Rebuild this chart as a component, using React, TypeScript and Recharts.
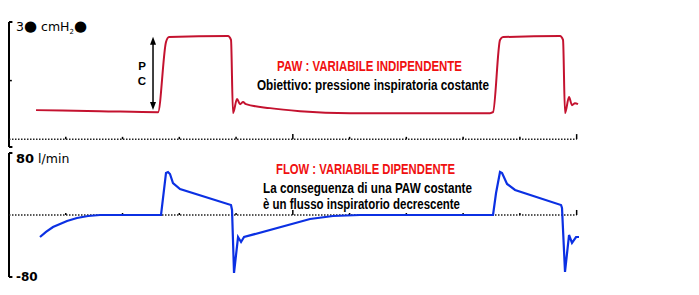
import React from 'react';
import { LineChart, Line, XAxis, YAxis, ReferenceLine } from 'recharts';

// tempo (unità asse x) e valori
const pawTime = [0.476, 1.603, 2.625, 2.766, 2.819, 3.858, 3.911, 3.946, 4.017, 4.07, 4.123, 4.175, 4.598, 5.127, 6.008, 8.474, 8.527, 8.65, 8.703, 9.707, 9.76, 9.795, 9.866, 9.918, 9.971, 10.024];
const pawValue = [7.44, 7.18, 6.92, 24.9, 26.15, 26.4, 25.4, 6.67, 10.26, 8.97, 9.49, 8.97, 7.95, 7.18, 6.67, 6.67, 6.92, 25.4, 26.15, 26.4, 25.4, 6.67, 10.77, 8.72, 9.23, 8.97];

const flowTime = [0.546, 0.652, 0.775, 0.899, 1.022, 1.198, 1.392, 1.603, 2.66, 2.678, 2.766, 2.801, 2.836, 2.889, 3.013, 3.911, 3.929, 3.964, 4.035, 4.088, 4.141, 5.303, 5.708, 6.184, 8.527, 8.58, 8.65, 8.686, 8.774, 8.915, 9.725, 9.742, 9.795, 9.866, 9.918, 9.989, 10.042];
const flowValue = [-28.4, -21.9, -15.5, -11.6, -7.7, -3.9, -1.3, 0, 0, 0, 54.2, 55.5, 52.9, 41.3, 33.5, 12.9, 6.5, -74.8, -28.4, -34.8, -28.4, -5.2, -1.3, 0, 0, 28.4, 55.5, 54.2, 40, 32.3, 12.9, 9, -73.5, -25.8, -36.1, -28.4, -28.4];

const tickTimes = [1, 2, 3, 4, 5, 6, 7, 8, 9, 10];
const majorTicks = [5, 10];

const pawData = pawTime.map((t, i) => ({ t, v: pawValue[i] }));
const flowData = flowTime.map((t, i) => ({ t, v: flowValue[i] }));

const narrow = "'Liberation Sans Narrow', 'Arial Narrow', 'Liberation Sans', Arial, sans-serif";
const plain = "'DejaVu Sans', Verdana, sans-serif";

const Arrow = (props: any) => {
  const { x1, y1, x2, y2 } = props;
  const top = Math.min(y1, y2);
  const bot = Math.max(y1, y2);
  return (
    <g>
      <line x1={x1} y1={top + 4} x2={x2} y2={bot - 4} stroke="#000" strokeWidth={1.5} />
      <polygon points={`${x1},${top} ${x1 - 3},${top + 8} ${x1 + 3},${top + 8}`} fill="#000" />
      <polygon points={`${x1},${bot} ${x1 - 3},${bot - 8} ${x1 + 3},${bot - 8}`} fill="#000" />
    </g>
  );
};

function Frame({ yMin, yMax, mid, small, big }: { yMin: number; yMax: number; mid?: number; small: number; big: number }) {
  const serif = 0.06;
  return (
    <>
      <ReferenceLine segment={[{ x: 0, y: yMin }, { x: 0, y: yMax }]} stroke="#000" strokeWidth={2} />
      <ReferenceLine segment={[{ x: 0, y: yMax }, { x: serif, y: yMax }]} stroke="#000" strokeWidth={2} />
      <ReferenceLine segment={[{ x: 0, y: yMin }, { x: serif, y: yMin }]} stroke="#000" strokeWidth={2} />
      {mid !== undefined && (
        <ReferenceLine segment={[{ x: 0, y: mid }, { x: 0.05, y: mid }]} stroke="#000" strokeWidth={1.5} />
      )}
      <ReferenceLine segment={[{ x: 0, y: 0 }, { x: 10, y: 0 }]} stroke="#222" strokeWidth={1.5} strokeDasharray="1.5 1.5" />
      {tickTimes.map((t) => (
        <ReferenceLine
          key={t}
          segment={[{ x: t, y: 0 }, { x: t, y: majorTicks.includes(t) ? big : small }]}
          stroke="#000"
          strokeWidth={1.5}
        />
      ))}
    </>
  );
}

export default function App() {
  return (
    <div style={{ position: 'absolute', left: 0, top: 0, width: 699, height: 295, background: '#fff' }}>
      <div style={{ position: 'absolute', left: 0, top: 0 }}>
        <LineChart width={699} height={150} data={pawData} margin={{ top: 22, right: 111, bottom: 3, left: 9 }}>
          <XAxis dataKey="t" type="number" domain={[0, 10.2]} hide />
          <YAxis type="number" domain={[-2, 30]} hide />
          <Frame yMin={-2} yMax={30} mid={15} small={0.6} big={1.3} />
          <ReferenceLine segment={[{ x: 2.537, y: 26.2 }, { x: 2.537, y: 7.45 }]} shape={Arrow} />
          <Line type="monotone" dataKey="v" stroke="#c4122f" strokeWidth={2} dot={false} isAnimationActive={false} />
        </LineChart>
      </div>
      <div style={{ position: 'absolute', left: 0, top: 150 }}>
        <LineChart width={699} height={145} data={flowData} margin={{ top: 3, right: 111, bottom: 18, left: 9 }}>
          <XAxis dataKey="t" type="number" domain={[0, 10.2]} hide />
          <YAxis type="number" domain={[-80, 80]} hide />
          <Frame yMin={-80} yMax={80} small={2.6} big={6.5} />
          <Line type="linear" dataKey="v" stroke="#0b30e3" strokeWidth={2.2} dot={false} isAnimationActive={false} />
        </LineChart>
      </div>
      <svg width={699} height={295} style={{ position: 'absolute', left: 0, top: 0, pointerEvents: 'none' }}>
        <text x={16} y={31} fontFamily={plain} fontSize={12.5} fill="#000">
          3<tspan fontSize={15}>●</tspan> cmH<tspan fontSize={7} dy={3}>2</tspan>
          <tspan fontSize={15} dy={-3}>●</tspan>
        </text>
        <text x={16} y={163} fontFamily={plain} fontSize={12.5} fill="#000">
          <tspan fontWeight="bold" fontSize={13}>80</tspan> l/min
        </text>
        <text x={16} y={281} fontFamily={plain} fontSize={12} fontWeight="bold" fill="#000">-80</text>

        <text x={142} y={70} textAnchor="middle" fontFamily={narrow} fontSize={11.5} fontWeight="bold">P</text>
        <text x={142} y={85} textAnchor="middle" fontFamily={narrow} fontSize={11.5} fontWeight="bold">C</text>

        <text x={277} y={70.5} fontFamily={narrow} fontSize={14.5} fontWeight="bold" fill="#f01010" textLength={185} lengthAdjust="spacingAndGlyphs">PAW : VARIABILE INDIPENDENTE</text>
        <text x={257} y={90} fontFamily={narrow} fontSize={14.5} fontWeight="bold" fill="#000" textLength={232} lengthAdjust="spacingAndGlyphs">Obiettivo: pressione inspiratoria costante</text>
        <text x={276} y={173.5} fontFamily={narrow} fontSize={14.5} fontWeight="bold" fill="#f01010" textLength={179} lengthAdjust="spacingAndGlyphs">FLOW : VARIABILE DIPENDENTE</text>
        <text x={263} y={193} fontFamily={narrow} fontSize={14.5} fontWeight="bold" fill="#000" textLength={209} lengthAdjust="spacingAndGlyphs">La conseguenza di una PAW costante</text>
        <text x={263} y={208.5} fontFamily={narrow} fontSize={14.5} fontWeight="bold" fill="#000" textLength={197} lengthAdjust="spacingAndGlyphs">è un flusso inspiratorio decrescente</text>
      </svg>
    </div>
  );
}
